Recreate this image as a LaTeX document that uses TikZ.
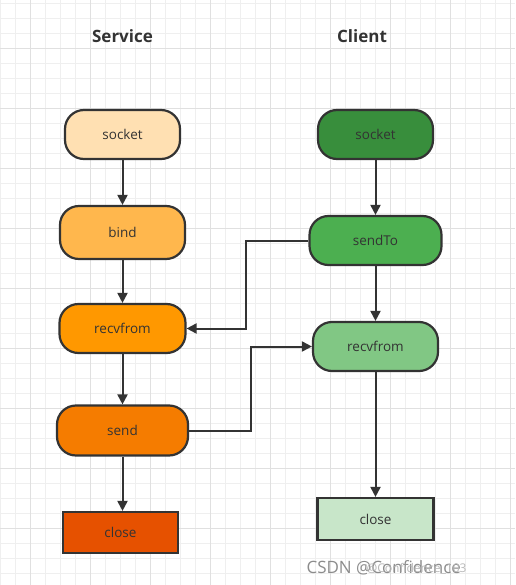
\documentclass[tikz,border=0pt]{standalone}
\usepackage{fontspec}
\setmainfont{Open Sans}
\usetikzlibrary{arrows.meta}
\definecolor{gridminor}{HTML}{EFEFEF}
\definecolor{gridmajor}{HTML}{E0E0E0}
\definecolor{ink}{HTML}{333333}
\definecolor{sA}{HTML}{FFE0B2}
\definecolor{sB}{HTML}{FFB74D}
\definecolor{sC}{HTML}{FF9800}
\definecolor{sD}{HTML}{F57C00}
\definecolor{sE}{HTML}{E65100}
\definecolor{cA}{HTML}{388E3C}
\definecolor{cB}{HTML}{4CAF50}
\definecolor{cC}{HTML}{81C784}
\definecolor{cD}{HTML}{C8E6C9}
\begin{document}
\begin{tikzpicture}[x=1pt,y=-1pt,
  minorline/.style={draw=gridminor,line width=0.8pt},
  majorline/.style={draw=gridmajor,line width=0.9pt},
  rbox/.style={draw=ink,line width=2.2pt,rounded corners=19pt,inner sep=0pt,
    text=ink,font=\fontsize{13.5}{16}\selectfont},
  sbox/.style={draw=ink,line width=2.2pt,inner sep=0pt,
    text=ink,font=\fontsize{13.5}{16}\selectfont},
  arr/.style={draw=ink,line width=2pt,-{Triangle[length=10pt,width=10pt]}},
  title/.style={text=ink,font=\fontsize{17}{20}\selectfont\bfseries}]
\useasboundingbox (0,0) rectangle (515,585);
\fill[white] (0,0) rectangle (515,585);
\foreach \x in {0,15,...,510} \draw[minorline] (\x,0) -- (\x,585);
\foreach \y in {3,18,...,583} \draw[minorline] (0,\y) -- (515,\y);
\foreach \x in {30,90,...,510} \draw[majorline] (\x,0) -- (\x,585);
\foreach \y in {48,108,...,528} \draw[majorline] (0,\y) -- (515,\y);

\node[title] (tS) at (122.5,36) {Service};
\node[title] (tC) at (362,36) {Client};

\node[rbox,fill=sA,minimum width=115pt,minimum height=49pt] (ssock) at (122.5,134.5) {socket};
\node[rbox,fill=sB,minimum width=125pt,minimum height=53pt] (sbind) at (122.5,232.5) {bind};
\node[rbox,fill=sC,minimum width=126pt,minimum height=49pt] (srecv) at (122.5,328.5) {recvfrom};
\node[rbox,fill=sD,minimum width=131pt,minimum height=50pt] (ssend) at (122.5,430.5) {send};
\node[sbox,fill=sE,minimum width=115pt,minimum height=41pt] (sclose) at (120.5,532.5) {close};

\node[rbox,fill=cA,minimum width=115pt,minimum height=49pt] (csock) at (375.5,134.5) {socket};
\node[rbox,fill=cB,minimum width=132pt,minimum height=49pt] (csend) at (375.5,240.5) {sendTo};
\node[rbox,fill=cC,minimum width=125pt,minimum height=49pt] (crecv) at (375.5,346.5) {recvfrom};
\node[sbox,fill=cD,minimum width=116pt,minimum height=42pt] (cclose) at (375.5,519) {close};

\draw[arr] (ssock) -- (sbind);
\draw[arr] (sbind) -- (srecv);
\draw[arr] (srecv) -- (ssend);
\draw[arr] (ssend) -- (ssend |- sclose.north);

\draw[arr] (csock) -- (csend);
\draw[arr] (csend) -- (crecv);
\draw[arr] (crecv) -- (cclose);

\draw[arr] (csend.west) -- ++(-62,0) |- (srecv.east);
\draw[arr] (ssend.east) -- ++(62,0) |- (crecv.west);

\node[anchor=west,text=black!45,font=\fontsize{17}{20}\selectfont] (wm1) at (303,568) {CSDN @Confidence};
\node[anchor=west,text=black!28,font=\fontsize{12}{14}\selectfont] (wm2) at (363,569) {@Confidence\_103};
\end{tikzpicture}
\end{document}
